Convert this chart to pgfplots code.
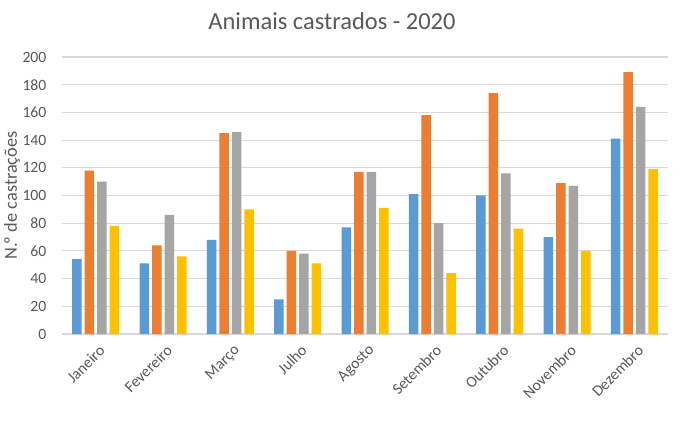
\documentclass[border=0pt]{standalone}
\usepackage{pgfplots}
\pgfplotsset{compat=1.18}
\usepackage{fontspec}
\setmainfont{Carlito}
\definecolor{cblue}{HTML}{5B9BD5}
\definecolor{corange}{HTML}{ED7D31}
\definecolor{cgray}{HTML}{A5A5A5}
\definecolor{cyellow}{HTML}{FFC000}
\definecolor{gridc}{HTML}{D9D9D9}
\definecolor{txt}{HTML}{595959}
\begin{document}
\begin{tikzpicture}
\begin{axis}[
  at={(0,0)}, anchor=south west,
  scale only axis,
  width=347.06pt, height=158.64pt,
  ymin=0, ymax=200, ytick={0,20,...,200},
  xmin=-0.5, xmax=8.5,
  xtick={0,...,8},
  xticklabels={Janeiro,Fevereiro,Março,Julho,Agosto,Setembro,Outubro,Novembro,Dezembro},
  /pgf/number format/assume math mode=true,
  ybar=1.72pt, bar width=5.44pt,
  axis x line*=bottom, axis y line*=left,
  x axis line style={draw=gridc, line width=0.6pt},
  y axis line style={draw=none},
  ymajorgrids, grid style={draw=gridc, line width=0.6pt},
  major tick length=0pt, tick style={draw=none},
  ticklabel style={font=\fontsize{9}{10}\selectfont, text=txt},
  yticklabel style={xshift=-5.4pt},
  xticklabel style={rotate=45, anchor=north east, xshift=0.5pt, yshift=-1.5pt},
  ylabel={N.\kern-0.6ptº de castrações},
  every axis y label/.style={at={(axis description cs:-0.0825,0.5)}, rotate=90, anchor=center, font=\fontsize{10.5}{12}\selectfont, text=txt},
  title={Animais castrados - 2020},
  every axis title/.style={at={(axis description cs:0.4455,1)}, anchor=base, yshift=15.5pt, font=\fontsize{14}{16}\selectfont, text=txt},
  clip=false,
]
\addplot[fill=cblue, draw=none] coordinates {(0,54) (1,51) (2,68) (3,25) (4,77) (5,101) (6,100) (7,70) (8,141)};
\addplot[fill=corange, draw=none] coordinates {(0,118) (1,64) (2,145) (3,60) (4,117) (5,158) (6,174) (7,109) (8,189)};
\addplot[fill=cgray, draw=none] coordinates {(0,110) (1,86) (2,146) (3,58) (4,117) (5,80) (6,116) (7,107) (8,164)};
\addplot[fill=cyellow, draw=none] coordinates {(0,78) (1,56) (2,90) (3,51) (4,91) (5,44) (6,76) (7,60) (8,119)};
\end{axis}
\pgfresetboundingbox
\path (-35.51pt,-53.26pt) rectangle (359.08pt,191.28pt);
\end{tikzpicture}
\end{document}
